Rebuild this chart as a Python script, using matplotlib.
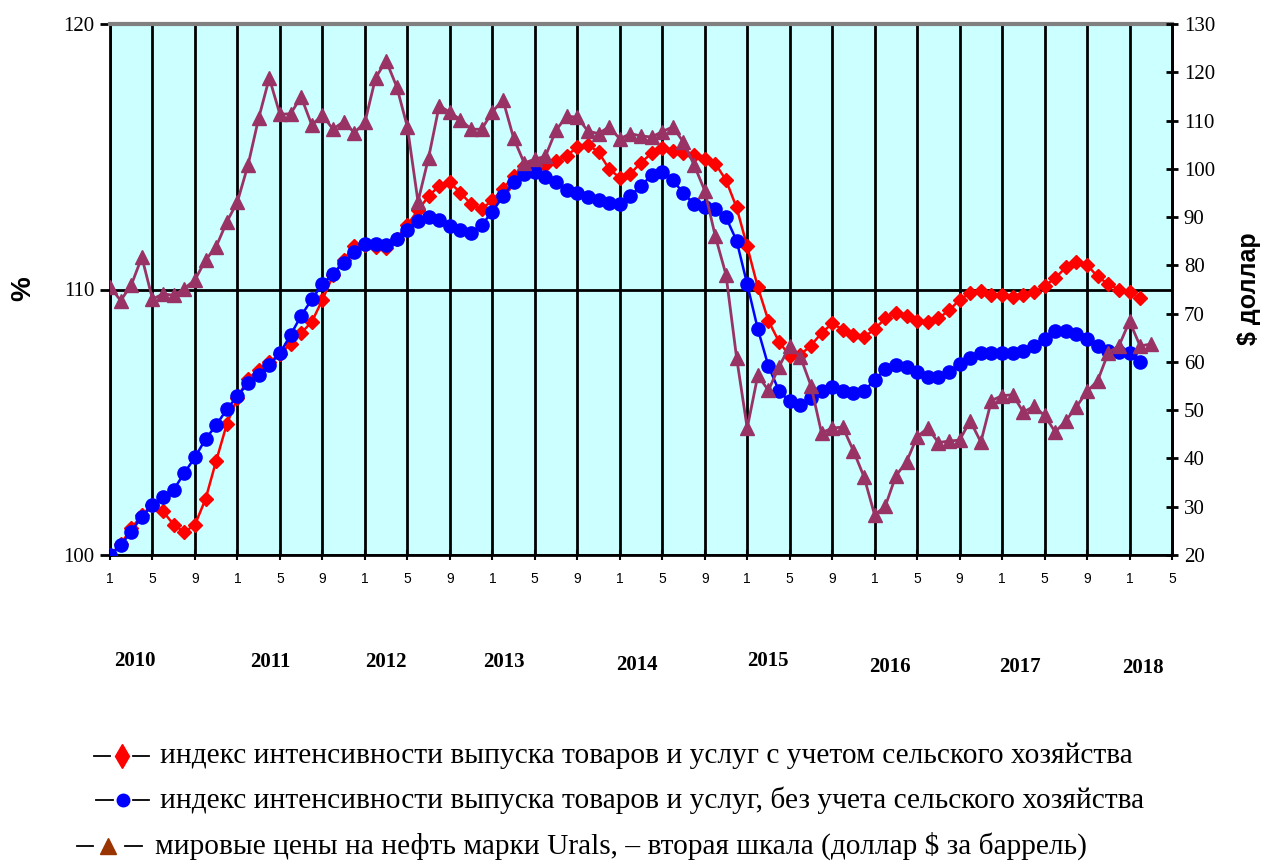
import matplotlib
matplotlib.use('Agg')
import matplotlib.pyplot as plt
from matplotlib.lines import Line2D
from matplotlib.transforms import blended_transform_factory
import numpy as np

# ---------------- data ----------------
# monthly, index 0 = January 2010
with_agri = [
    100.0, 100.4, 101.0, 101.5, 101.9, 101.64, 101.14, 100.86, 101.14, 102.11, 103.55, 104.93,
    105.92, 106.64, 106.97, 107.26, 107.57, 107.96, 108.36, 108.78, 109.61, 110.53, 111.12, 111.62,
    111.67, 111.6, 111.58, 111.91, 112.43, 112.99, 113.51, 113.91, 114.04, 113.64, 113.22, 113.03,
    113.36, 113.78, 114.28, 114.67, 114.78, 114.70, 114.83, 115.04, 115.36, 115.46, 115.17, 114.54,
    114.21, 114.36, 114.78, 115.13, 115.33, 115.22, 115.13, 115.07, 114.93, 114.74, 114.12, 113.09,
    111.62, 110.09, 108.82, 108.03, 107.50, 107.54, 107.89, 108.36, 108.72, 108.49, 108.29, 108.20,
    108.51, 108.91, 109.13, 108.99, 108.82, 108.78, 108.91, 109.21, 109.61, 109.87, 109.93, 109.80,
    109.78, 109.70, 109.80, 109.91, 110.13, 110.43, 110.83, 111.05, 110.92, 110.49, 110.20, 110.00,
    109.91, 109.67,
]
without_agri = [
    100.0, 100.36, 100.88, 101.45, 101.87, 102.17, 102.46, 103.09, 103.68, 104.37, 104.89, 105.49,
    105.99, 106.47, 106.78, 107.17, 107.59, 108.29, 109.01, 109.63, 110.20, 110.59, 111.01, 111.41,
    111.71, 111.71, 111.67, 111.91, 112.24, 112.59, 112.72, 112.63, 112.41, 112.24, 112.14, 112.43,
    112.93, 113.51, 114.04, 114.34, 114.43, 114.25, 114.04, 113.75, 113.62, 113.49, 113.36, 113.25,
    113.22, 113.52, 113.91, 114.30, 114.43, 114.12, 113.62, 113.22, 113.09, 113.03, 112.72, 111.84,
    110.20, 108.51, 107.11, 106.18, 105.79, 105.66, 105.92, 106.18, 106.32, 106.18, 106.09, 106.18,
    106.58, 107.01, 107.17, 107.07, 106.88, 106.71, 106.71, 106.91, 107.20, 107.43, 107.59, 107.61,
    107.59, 107.59, 107.70, 107.89, 108.12, 108.42, 108.42, 108.33, 108.12, 107.89, 107.70, 107.63,
    107.59, 107.28,
]
oil_urals = [
    75.6, 72.7, 75.9, 81.7, 73.0, 74.1, 73.8, 75.2, 77.0, 81.1, 83.9, 89.0,
    93.2, 100.8, 110.5, 118.8, 111.3, 111.4, 114.9, 109.1, 111.1, 108.2, 109.8, 107.5,
    109.6, 118.8, 122.4, 117.0, 108.7, 93.2, 102.3, 113.1, 111.7, 110.2, 108.2, 108.2,
    111.8, 114.3, 106.4, 101.2, 102.0, 102.6, 108.0, 110.9, 110.7, 107.8, 107.3, 108.7,
    106.2, 107.3, 106.8, 106.6, 107.7, 108.7, 105.5, 100.8, 95.5, 86.0, 78.1, 60.9,
    46.3, 57.2, 54.1, 59.0, 63.3, 61.1, 55.1, 45.3, 46.3, 46.5, 41.6, 36.2,
    28.3, 30.1, 36.4, 39.3, 44.5, 46.3, 43.3, 43.6, 43.8, 47.8, 43.4, 52.0,
    53.0, 53.2, 49.6, 50.8, 48.9, 45.5, 47.8, 50.7, 53.9, 56.1, 61.9, 63.3,
    68.4, 63.3, 63.7,
]
month_tick_labels = ['1', '5', '9'] * 8 + ['1', '5']
years = ['2010', '2011', '2012', '2013', '2014', '2015', '2016', '2017', '2018']
legend_labels = [
    'индекс интенсивности выпуска товаров и услуг с учетом сельского хозяйства',
    'индекс интенсивности выпуска товаров и услуг, без учета сельского хозяйства',
    'мировые цены на нефть марки Urals, – вторая шкала (доллар $ за баррель)',
]

# ---------------- layout ----------------
year_x = [2.35, 15.1, 26.0, 37.1, 49.6, 61.9, 73.4, 85.7, 97.3]
year_y = [-0.200, -0.202, -0.202, -0.202, -0.207, -0.200, -0.211, -0.211, -0.213]

SERIF = ['Liberation Serif', 'DejaVu Serif']
SANS = ['Liberation Sans', 'DejaVu Sans']
RED = '#FF0000'
BLUE = '#0000FF'
OIL = '#993366'

W, H = 1265, 861
fig = plt.figure(figsize=(W / 100, H / 100), dpi=100)
ax = fig.add_axes([110 / W, 1 - 555 / H, (1172 - 110) / W, (555 - 24) / H])
ax.set_facecolor('#CCFFFF')


def fx(px):
    return px / W


def fy(py):
    return 1 - py / H


x_red = np.arange(len(with_agri))
x_blue = np.arange(len(without_agri))
x_oil = np.arange(len(oil_urals))

ax.plot(x_red, with_agri, color=RED, lw=1.8, marker='D', ms=7, mec=RED, mfc=RED, zorder=3)
ax.plot(x_blue, without_agri, color=BLUE, lw=1.8, marker='o', ms=9.5, mec=BLUE, mfc=BLUE, zorder=4)

ax.set_xlim(0, 100)
ax.set_ylim(100, 120)
ax.set_xticks(np.arange(0, 101, 4))
ax.set_xticklabels(month_tick_labels, fontfamily=SANS, fontsize=10)
ax.set_yticks([100, 110, 120])
ax.set_yticklabels(['100', '110', '120'], fontfamily=SERIF, fontsize=15)
ax.tick_params(axis='x', direction='inout', length=7, width=1.5, pad=9, color='black')
ax.tick_params(axis='y', direction='out', length=7, width=2, pad=4)
ax.grid(True, axis='both', color='black', lw=2, zorder=1)
ax.set_axisbelow(True)
for s in ['left', 'bottom', 'right']:
    ax.spines[s].set_linewidth(2)
    ax.spines[s].set_color('black')
ax.spines['top'].set_color('#808080')
ax.spines['top'].set_linewidth(3)

ax2 = ax.twinx()
ax2.plot(x_oil, oil_urals, color=OIL, lw=2, marker='^', ms=10, mec=OIL, mfc=OIL, zorder=5)
ax2.set_ylim(20, 130)
ax2.set_yticks(np.arange(20, 131, 10))
ax2.set_yticklabels([str(v) for v in range(20, 131, 10)], fontfamily=SERIF, fontsize=15)
ax2.tick_params(axis='y', direction='inout', length=9, width=2, pad=4)
ax2.spines['right'].set_linewidth(2)
ax2.spines['top'].set_visible(False)
ax2.spines['left'].set_visible(False)
ax2.spines['bottom'].set_visible(False)

# axis titles
fig.text(fx(23), fy(289), '%', rotation=90, ha='center', va='center',
         fontfamily=SANS, fontsize=20, fontweight='bold')
fig.text(fx(1249), fy(289), '$ доллар', rotation=90, ha='center', va='center',
         fontfamily=SANS, fontsize=18, fontweight='bold')

tr = blended_transform_factory(ax.transData, ax.transAxes)
for yx, yy, lab in zip(year_x, year_y, years):
    ax.text(yx, yy, lab, transform=tr, ha='center', va='center',
            fontfamily=SERIF, fontsize=15, fontweight='bold')

# ---------------- legend (drawn manually) ----------------
leg_rows = [
    dict(y=756, d1=(94, 110), m=122, d2=(133, 149), tx=160, color=RED, marker='d', ms=12),
    dict(y=800, d1=(96, 113), m=123, d2=(133, 149), tx=160, color=BLUE, marker='o', ms=9),
    dict(y=846, d1=(77, 93), m=108, d2=(125, 142), tx=155, color='#993300', marker='^', ms=12),
]
for row, lab in zip(leg_rows, legend_labels):
    for a, b in (row['d1'], row['d2']):
        fig.add_artist(Line2D([fx(a), fx(b)], [fy(row['y']), fy(row['y'])],
                              transform=fig.transFigure, color='black', lw=1.3))
    fig.add_artist(Line2D([fx(row['m'])], [fy(row['y'])], transform=fig.transFigure,
                          marker=row['marker'], ms=row['ms'], color=row['color'], lw=0))
    fig.text(fx(row['tx']), fy(row['y']), lab, ha='left', va='center',
             fontfamily=SERIF, fontsize=21.2)

fig.savefig('out.png', dpi=100)
